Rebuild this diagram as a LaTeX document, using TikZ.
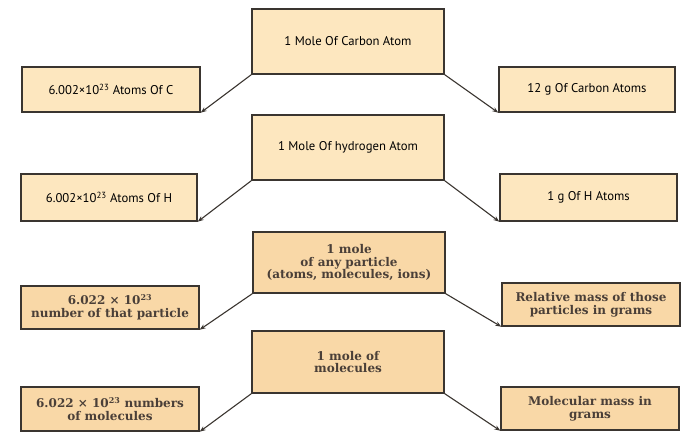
\documentclass[tikz,border=0pt]{standalone}
\usepackage{fontspec}
\setmainfont{DejaVu Serif}
\newfontfamily\topfont{PT Sans}
\usetikzlibrary{arrows.meta}
\definecolor{lightfill}{HTML}{FDE7BF}
\definecolor{darkfill}{HTML}{F9D8A7}
\definecolor{edgec}{HTML}{3A3530}
\definecolor{txtc}{HTML}{4A3F38}
\begin{document}
\begin{tikzpicture}[x=1pt,y=-1pt,
  topbox/.style={draw=edgec,line width=1.4pt,fill=lightfill,inner sep=2pt,align=center,
     font=\topfont\fontsize{12.7}{15}\selectfont,text=black},
  botbox/.style={draw=edgec,line width=1.4pt,fill=darkfill,inner sep=1pt,align=center,
     font=\bfseries\fontsize{12}{12.8}\selectfont,text=txtc},
  conn/.style={draw=edgec,line width=1.1pt,-{Stealth[length=6pt,width=4.5pt]}}]
\useasboundingbox (0,0) rectangle (698,446);
% section 1
\node[topbox,minimum width=192pt,minimum height=65pt] (c1) at (348,41.5) {1 Mole Of Carbon Atom};
\node[topbox,minimum width=178pt,minimum height=45pt] (l1) at (111,89.5) {6.002×10\textsuperscript{23} Atoms Of C};
\node[topbox,minimum width=176pt,minimum height=45pt] (r1) at (587,89.5) {12 g Of Carbon Atoms};
% section 2
\node[topbox,minimum width=192pt,minimum height=65pt] (c2) at (348,147.5) {1 Mole Of hydrogen Atom};
\node[topbox,minimum width=176pt,minimum height=47pt] (l2) at (109,197.5) {6.002×10\textsuperscript{23} Atoms Of H};
\node[topbox,minimum width=177pt,minimum height=47pt] (r2) at (588.5,197.5) {1 g Of H Atoms};
% section 3
\node[botbox,minimum width=192pt,minimum height=61pt] (c3) at (349,262.5) {1 mole\\of any particle\\(atoms, molecules, ions)};
\node[botbox,minimum width=178pt,minimum height=43pt] (l3) at (110,307.5) {6.022 × 10\textsuperscript{23}\\number of that particle};
\node[botbox,minimum width=178pt,minimum height=43pt] (r3) at (591,304.5) {Relative mass of those\\particles in grams};
% section 4
\node[botbox,minimum width=192pt,minimum height=62pt] (c4) at (348,362) {1 mole of\\molecules};
\node[botbox,minimum width=178pt,minimum height=44pt] (l4) at (110,409) {6.022 × 10\textsuperscript{23} numbers\\of molecules};
\node[botbox,minimum width=178pt,minimum height=43pt] (r4) at (590,408.5) {Molecular mass in\\grams};
% connectors
\draw[conn] (c1.south west) -- (l1.south east);
\draw[conn] (c1.south east) -- (r1.south west);
\draw[conn] (c2.south west) -- (l2.south east);
\draw[conn] (c2.south east) -- (r2.south west);
\draw[conn] (c3.south west) -- (l3.south east);
\draw[conn] (c3.south east) -- (r3.south west);
\draw[conn] (c4.south west) -- (l4.south east);
\draw[conn] (c4.south east) -- (r4.south west);
\end{tikzpicture}
\end{document}
